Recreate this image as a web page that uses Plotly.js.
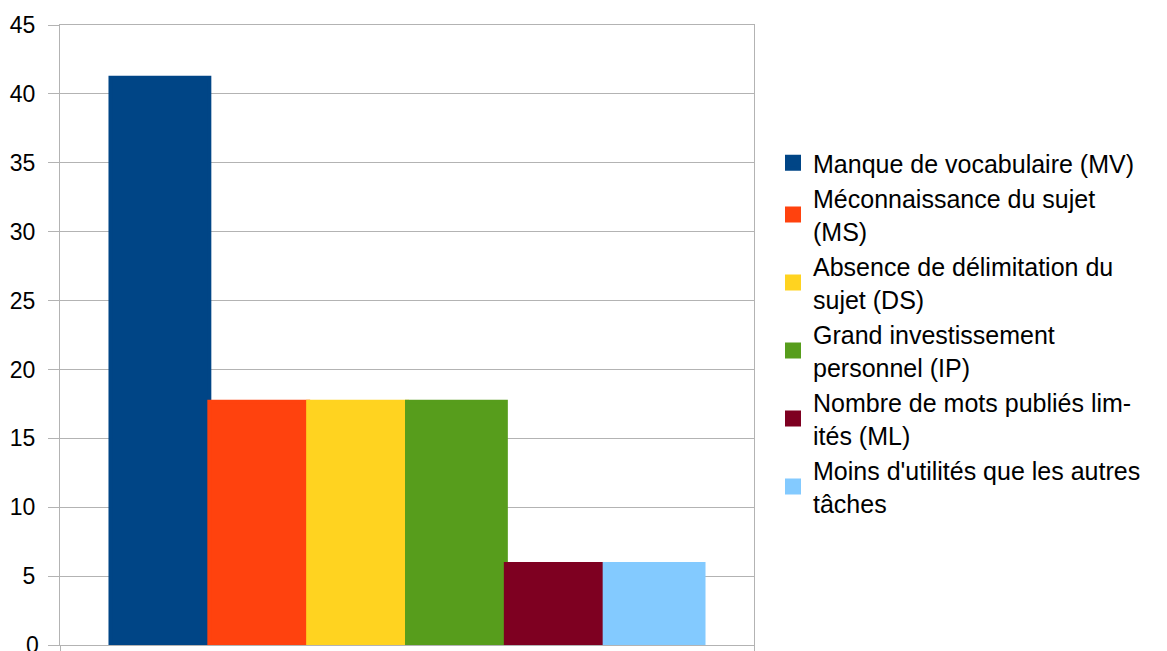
<!DOCTYPE html>
<html>
<head>
<meta charset="utf-8">
<script src="https://cdn.plot.ly/plotly-3.0.1.min.js"></script>
<style>html,body{margin:0;padding:0;background:#fff;}#chart{width:1167px;height:651px;}</style>
</head>
<body>
<div id="chart"></div>
<script>
var seriesNames = [
  "Manque de vocabulaire (MV)",
  "Méconnaissance du sujet<br>(MS)",
  "Absence de délimitation du<br>sujet (DS)",
  "Grand investissement<br>personnel (IP)",
  "Nombre de mots publiés lim-<br>ités (ML)",
  "Moins d'utilités que les autres<br>tâches"
];
var seriesValues = [41.18, 17.65, 17.65, 17.65, 5.88, 5.88];
var seriesColors = ["#004586", "#ff420e", "#ffd320", "#579d1c", "#7e0021", "#83caff"];
var category = ["Raisons"];
var yTicks = [0, 5, 10, 15, 20, 25, 30, 35, 40, 45];

var traces = seriesNames.map(function (n, i) {
  return {
    type: "bar",
    name: n,
    x: category,
    y: [seriesValues[i]],
    marker: {color: seriesColors[i], line: {width: 4, color: seriesColors[i]}},
    hoverinfo: "y+name"
  };
});

var layout = {
  width: 1167,
  height: 651,
  margin: {l: 60, r: 413, t: 25, b: 6, pad: 0},
  paper_bgcolor: "#ffffff",
  plot_bgcolor: "#ffffff",
  font: {family: "Liberation Sans, Arial, sans-serif", color: "#000000", size: 23},
  barmode: "group",
  bargap: 0.1455,
  bargroupgap: 0,
  showlegend: true,
  legend: {
    x: (773 - 60) / 694, xref: "paper", xanchor: "left",
    y: 1 - (140 - 25) / 620, yref: "paper", yanchor: "top",
    font: {size: 25, color: "#000000"},
    bgcolor: "rgba(0,0,0,0)",
    itemwidth: 30,
    traceorder: "normal"
  },
  xaxis: {
    type: "category",
    showticklabels: false,
    showgrid: false,
    showline: true,
    mirror: true,
    linecolor: "#b3b3b3",
    linewidth: 1,
    ticks: "outside",
    tickson: "boundaries",
    ticklen: 10,
    tickcolor: "#b3b3b3",
    zeroline: false,
    fixedrange: true
  },
  yaxis: {
    range: [0, 45],
    tickvals: yTicks,
    ticktext: yTicks.map(String),
    showgrid: true,
    gridcolor: "#b3b3b3",
    gridwidth: 1,
    showline: true,
    mirror: true,
    linecolor: "#b3b3b3",
    linewidth: 1,
    ticks: "outside",
    ticklen: 11,
    tickcolor: "#b3b3b3",
    zeroline: false,
    tickfont: {size: 23, color: "#000000"},
    ticklabelstandoff: 8,
    fixedrange: true
  },
  annotations: [{
    text: String(yTicks[0]), xref: "paper", yref: "y", x: 0, y: yTicks[0],
    xanchor: "right", yanchor: "middle", xshift: -19, showarrow: false,
    font: {size: 23, color: "#000000"}
  }]
};

Plotly.newPlot("chart", traces, layout, {displayModeBar: false, staticPlot: true});
</script>
</body>
</html>
